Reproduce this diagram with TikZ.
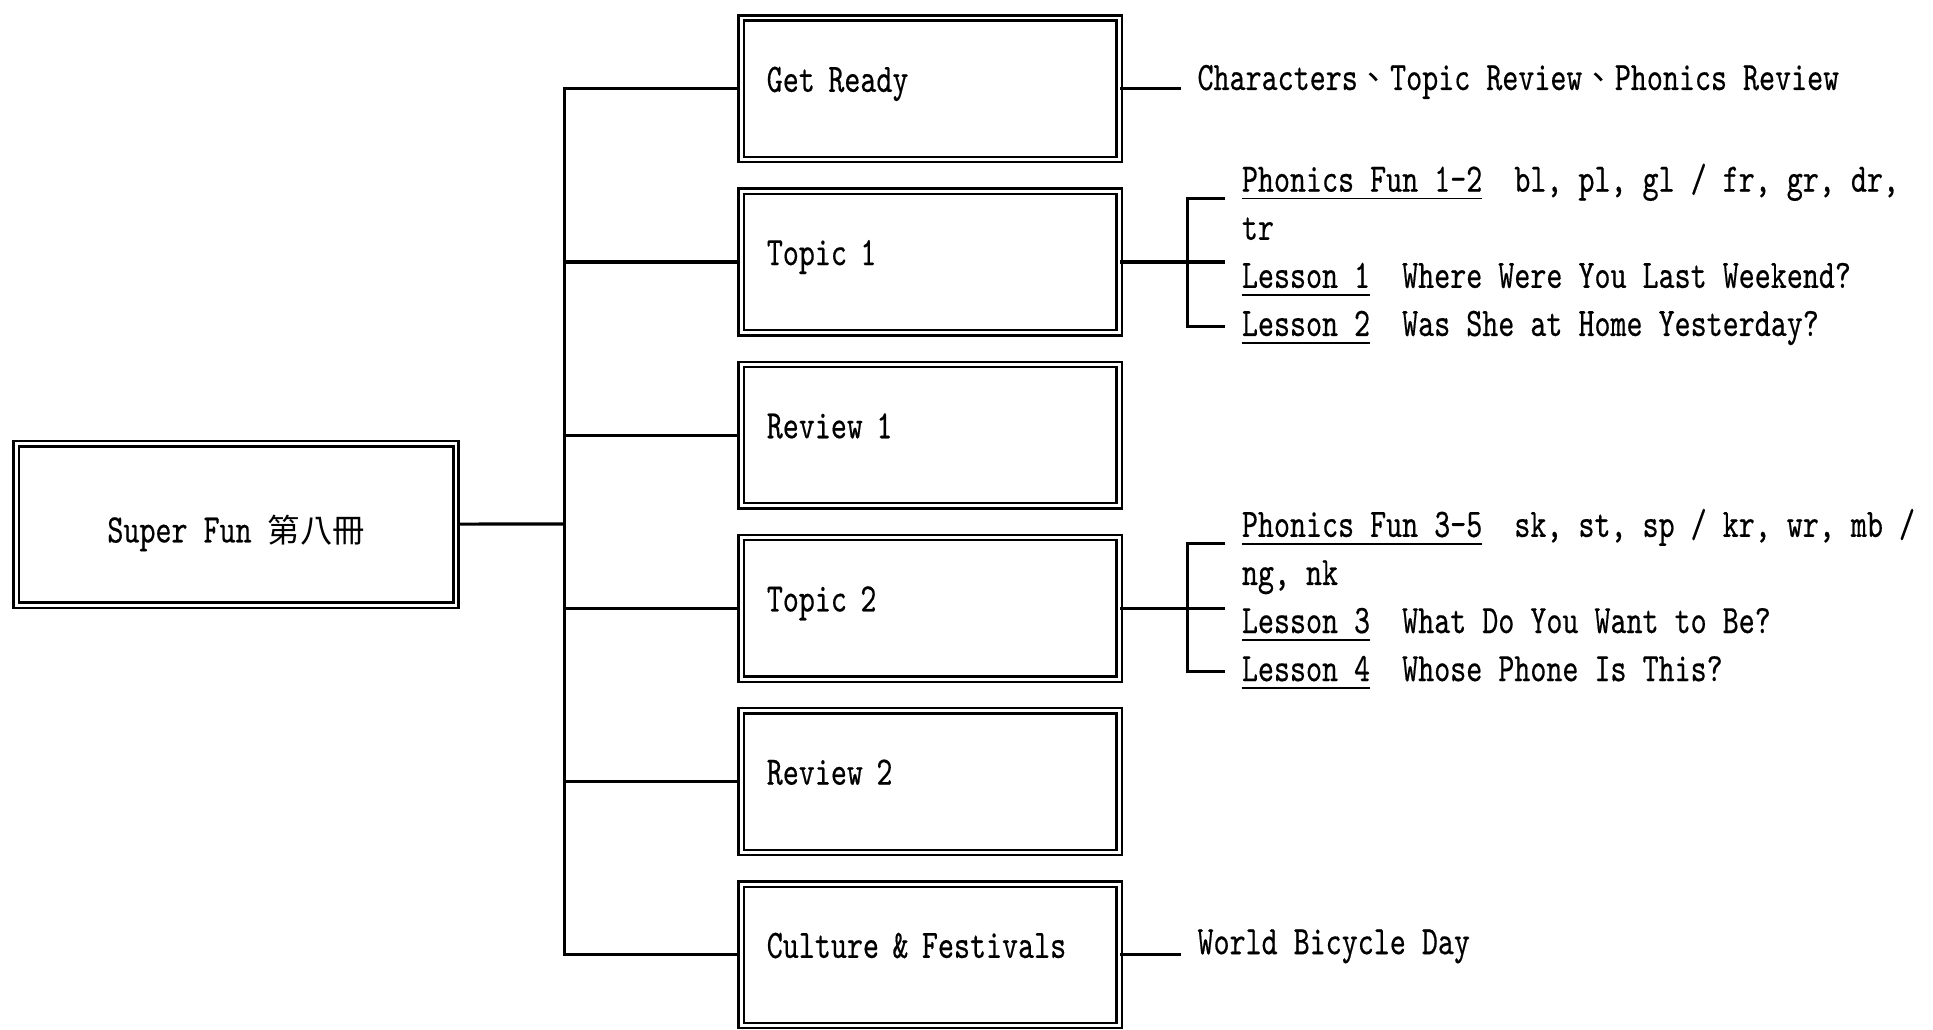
\documentclass[tikz,border=0pt]{standalone}
\usepackage{fontspec}
\setmainfont{lmmono10-regular.otf}[FakeStretch=0.755,FakeBold=0.4]
\newfontfamily\cjk{Noto Sans CJK TC}[Scale=0.8]
\newcommand{\undl}[1]{\setbox0\hbox{#1}\rlap{\rule[-3.1pt]{\wd0}{0.7pt}}\box0}

\begin{document}
\begin{tikzpicture}[x=0.5pt,y=-0.5pt,node distance=70.25pt,
                    font=\fontsize{16.4pt}{19.5pt}\selectfont,
                    link/.style={line width=1.3pt},
                    dbl/.style={draw,double,double distance=1.2pt,line width=0.95pt},
                    box/.style={dbl,text width=132.5pt,align=left,inner xsep=10.45pt,
                                minimum height=57.4pt,text height=12pt,text depth=9.5pt},
                    rootbox/.style={dbl,minimum width=178.4pt,minimum height=65.4pt,
                                    text height=14.5pt,text depth=0pt},
                    leaf/.style={anchor=base west,inner xsep=6.5pt,inner ysep=0pt}]
  \useasboundingbox (0,0) rectangle (1568,835);

  \node[rootbox] (sf) at (191.5,425.5) {Super Fun {\cjk 第八冊}};

  \node[box] (gr) at (754.5,72) {Get Ready};
  \node[box] (t1) [below of=gr] {Topic 1};
  \node[box] (r1) [below of=t1] {Review 1};
  \node[box] (t2) [below of=r1] {Topic 2};
  \node[box] (r2) [below of=t2] {Review 2};
  \node[box] (cf) [below of=r2] {Culture \& Festivals};

  % trunk
  \coordinate (trunk) at (458,425);
  \draw[link] (sf) -- (trunk);
  \draw[link] (gr) -| (trunk) |- (cf);
  \foreach \n in {t1,r1,t2,r2}
    \draw[link] (\n) -- (\n -| trunk);

  % right side
  \node[leaf] (grx) at (958,73) {Characters{\cjk 、}Topic Review{\cjk 、}Phonics Review};
  \draw[link] (gr) -- (gr -| grx.west);

  \node[leaf] (t1a) at (994,155.5) {\undl{Phonics Fun 1-2}\ \ bl, pl, gl / fr, gr, dr,};
  \node[leaf] (t1b) at (994,194.5) {tr};
  \node[leaf] (t1c) at (994,233.5) {\undl{Lesson 1}\ \ Where Were You Last Weekend?};
  \node[leaf] (t1d) at (994,272.5) {\undl{Lesson 2}\ \ Was She at Home Yesterday?};
  \coordinate (t1k) at (963,213);
  \draw[link] ([yshift=-2.75pt]t1a.base west) -| (t1k) |- ([yshift=3.75pt]t1d.base west);
  \draw[link] (t1) -- (t1 -| t1c.west);

  \node[leaf] (t2a) at (994,435.5) {\undl{Phonics Fun 3-5}\ \ sk, st, sp / kr, wr, mb /};
  \node[leaf] (t2b) at (994,474.5) {ng, nk};
  \node[leaf] (t2c) at (994,513.5) {\undl{Lesson 3}\ \ What Do You Want to Be?};
  \node[leaf] (t2d) at (994,552.5) {\undl{Lesson 4}\ \ Whose Phone Is This?};
  \coordinate (t2k) at (963,493);
  \draw[link] ([yshift=-2.75pt]t2a.base west) -| (t2k) |- ([yshift=4pt]t2d.base west);
  \draw[link] (t2) -- (t2 -| t2c.west);

  \node[leaf] (cfx) at (958,774) {World Bicycle Day};
  \draw[link] (cf) -- (cf -| cfx.west);
\end{tikzpicture}
\end{document}
